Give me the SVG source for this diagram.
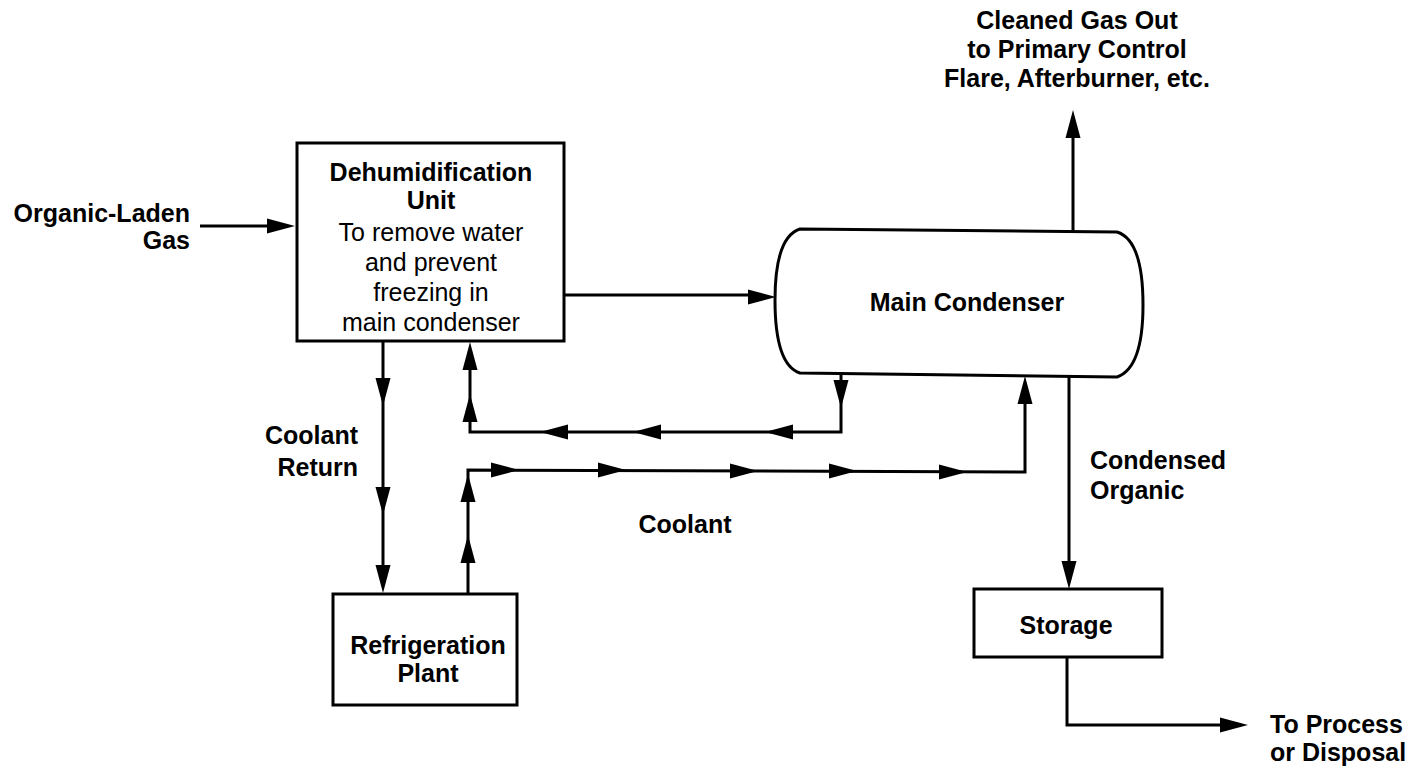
<svg xmlns="http://www.w3.org/2000/svg" xmlns:xlink="http://www.w3.org/1999/xlink" width="1418" height="768" viewBox="0 0 1418 768">
<style>
.box{fill:#fff;stroke:#000;stroke-width:3}
.ln{fill:none;stroke:#000;stroke-width:3;stroke-linejoin:miter}
.t{font-family:"Liberation Sans",Arial,Helvetica,sans-serif;font-size:25px;font-weight:bold;fill:#000}
.r{font-weight:normal}
.c{text-anchor:middle}
.e{text-anchor:end}
</style>
<defs>
<path id="ah" d="M0,0 L-28,-7.5 L-28,7.5 Z" fill="#000"/>
</defs>
<rect width="1418" height="768" fill="#fff"/>

<g id="inlet-label">
<text class="t e" x="190" y="222">Organic-Laden</text>
<text class="t e" x="190" y="249">Gas</text>
</g>

<g id="dehumidification-unit">
<rect class="box" x="297" y="143" width="267" height="198"/>
<text class="t c" x="431" y="181">Dehumidification</text>
<text class="t c" x="431" y="209">Unit</text>
<text class="t c r" x="431" y="241">To remove water</text>
<text class="t c r" x="431" y="271">and prevent</text>
<text class="t c r" x="431" y="301">freezing in</text>
<text class="t c r" x="431" y="331">main condenser</text>
</g>

<g id="main-condenser">
<path class="box" d="M800,229 L1117,232 Q1143,240 1143,305 Q1143,368 1117,377 L800,373 Q775,365 775,300 Q775,237 800,229 Z"/>
<text class="t c" x="967" y="311">Main Condenser</text>
</g>

<g id="refrigeration-plant">
<rect class="box" x="333" y="594" width="184" height="111"/>
<text class="t c" x="428" y="654">Refrigeration</text>
<text class="t c" x="428" y="682">Plant</text>
</g>

<g id="storage">
<rect class="box" x="974" y="589" width="188" height="68"/>
<text class="t c" x="1066" y="634">Storage</text>
</g>

<g id="labels">
<text class="t c" x="1077" y="29">Cleaned Gas Out</text>
<text class="t c" x="1077" y="58">to Primary Control</text>
<text class="t c" x="1077" y="87">Flare, Afterburner, etc.</text>
<text class="t e" x="358" y="444">Coolant</text>
<text class="t e" x="358" y="476">Return</text>
<text class="t c" x="685" y="533">Coolant</text>
<text class="t" x="1090" y="469">Condensed</text>
<text class="t" x="1090" y="499">Organic</text>
<text class="t" x="1270" y="733">To Process</text>
<text class="t" x="1270" y="761">or Disposal</text>
</g>

<g id="connectors">
<!-- inlet -->
<path class="ln" d="M200,226 H270"/>
<use xlink:href="#ah" transform="translate(295,226)"/>
<!-- dehumid to condenser -->
<path class="ln" d="M564,295 H750"/>
<use xlink:href="#ah" transform="translate(776,297)"/>
<!-- coolant return down -->
<path class="ln" d="M383,341 V570"/>
<use xlink:href="#ah" transform="translate(383,406) rotate(90)"/>
<use xlink:href="#ah" transform="translate(383,515) rotate(90)"/>
<use xlink:href="#ah" transform="translate(383,593) rotate(90)"/>
<!-- condenser return to dehumid -->
<path class="ln" d="M841,375 V432 H470 V365"/>
<use xlink:href="#ah" transform="translate(841,408) rotate(90)"/>
<use xlink:href="#ah" transform="translate(765,432) rotate(180)"/>
<use xlink:href="#ah" transform="translate(633,432) rotate(180)"/>
<use xlink:href="#ah" transform="translate(540,432) rotate(180)"/>
<use xlink:href="#ah" transform="translate(470,394) rotate(-90)"/>
<use xlink:href="#ah" transform="translate(470,342) rotate(-90)"/>
<!-- coolant supply -->
<path class="ln" d="M468,594 V470 L1025,472 V400"/>
<use xlink:href="#ah" transform="translate(468,535) rotate(-90)"/>
<use xlink:href="#ah" transform="translate(468,474) rotate(-90)"/>
<use xlink:href="#ah" transform="translate(519,470)"/>
<use xlink:href="#ah" transform="translate(626,470)"/>
<use xlink:href="#ah" transform="translate(758,471)"/>
<use xlink:href="#ah" transform="translate(857,471)"/>
<use xlink:href="#ah" transform="translate(967,472)"/>
<use xlink:href="#ah" transform="translate(1025,376) rotate(-90)"/>
<!-- gas out -->
<path class="ln" d="M1073,231 V135"/>
<use xlink:href="#ah" transform="translate(1073,110) rotate(-90)"/>
<!-- condensed organic -->
<path class="ln" d="M1069,376 V565"/>
<use xlink:href="#ah" transform="translate(1069,589) rotate(90)"/>
<!-- storage outlet -->
<path class="ln" d="M1067,657 V725 H1225"/>
<use xlink:href="#ah" transform="translate(1248,725)"/>
</g>
</svg>
